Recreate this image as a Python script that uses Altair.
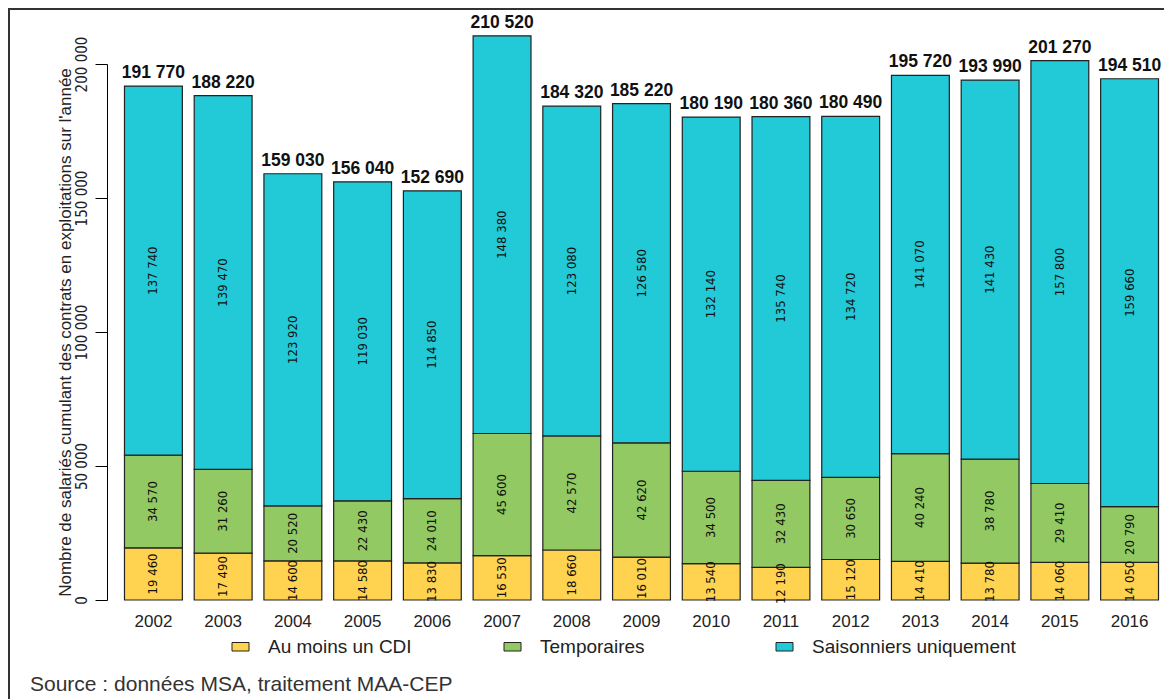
import altair as alt
import pandas as pd

years = ["2002", "2003", "2004", "2005", "2006", "2007", "2008", "2009",
         "2010", "2011", "2012", "2013", "2014", "2015", "2016"]
cdi = [19460, 17490, 14600, 14580, 13830, 16530, 18660, 16010,
       13540, 12190, 15120, 14410, 13780, 14060, 14050]
temp = [34570, 31260, 20520, 22430, 24010, 45600, 42570, 42620,
        34500, 32430, 30650, 40240, 38780, 29410, 20790]
sais = [137740, 139470, 123920, 119030, 114850, 148380, 123080, 126580,
        132140, 135740, 134720, 141070, 141430, 157800, 159660]
totals = [191770, 188220, 159030, 156040, 152690, 210520, 184320, 185220,
          180190, 180360, 180490, 195720, 193990, 201270, 194510]
series = ["Au moins un CDI", "Temporaires", "Saisonniers uniquement"]
colors = ["#FFD34F", "#92C962", "#22C9D6"]
y_ticks = [0, 50000, 100000, 150000, 200000]
y_title = "Nombre de salariés cumulant des contrats en exploitations sur l'année"
source = "Source : données MSA, traitement MAA-CEP"


def fmt(v):
    return f"{v:,}".replace(",", " ")


rows = []
for i, y in enumerate(years):
    for k, vals in enumerate([cdi, temp, sais]):
        rows.append({"year": y, "serie": series[k], "ord": k,
                     "value": vals[i], "label": fmt(vals[i])})
df = pd.DataFrame(rows)
tot_df = pd.DataFrame({"year": years, "total": totals,
                       "label": [fmt(t) for t in totals]})

W, H = 1041, 536
PAD_L, PAD_T = 113, 56
TOTAL_H = 691
NARROW = "DejaVu Sans Condensed, Liberation Sans, sans-serif"

xs = alt.X("year:N", sort=years,
           scale=alt.Scale(paddingInner=0.17, paddingOuter=0.05),
           axis=alt.Axis(title=None, labelAngle=0, ticks=False, domain=False,
                         labelPadding=13, labelFontSize=17,
                         labelFont="Liberation Sans", labelColor="#222"))
yscale = alt.Scale(domain=[0, 200000], nice=False)
yaxis = alt.Axis(values=y_ticks, grid=False,
                 labelExpr="replace(format(datum.value, ','), ',', ' ')",
                 tickSize=12, tickColor="#000", domainColor="#000",
                 labelAngle=270, labelAlign="center", labelBaseline="bottom",
                 labelPadding=6, labelFont=NARROW,
                 labelFontSize=15, labelColor="#222", offset=14,
                 title=y_title, titleFont="Liberation Sans",
                 titleFontSize=17, titleFontWeight="normal", titleColor="#222",
                 titleAngle=270, titleX=-33, titleY=H / 2,
                 titleAlign="center", titleBaseline="bottom")

base = alt.Chart(df).transform_stack(
    stack="value", groupby=["year"], as_=["y0", "y1"],
    sort=[alt.SortField("ord", order="ascending")]
).transform_calculate(mid="(datum.y0 + datum.y1) / 2")

bars = base.mark_bar(stroke="#222", strokeWidth=1.2).encode(
    x=xs,
    y=alt.Y("y0:Q", scale=yscale, axis=yaxis),
    y2="y1:Q",
    color=alt.Color("serie:N", sort=series,
                    scale=alt.Scale(domain=series, range=colors),
                    legend=alt.Legend(
                        title=None, orient="none", legendX=110, legendY=573,
                        direction="horizontal", columns=3, gridAlign="all",
                        columnPadding=30, padding=0, labelLimit=400,
                        symbolType="M-1,-0.5H1V0.5H-1Z",
                        symbolSize=289, symbolStrokeColor="#222",
                        symbolStrokeWidth=1, symbolOpacity=1,
                        labelFont="Liberation Sans", labelFontSize=19,
                        labelColor="#222", labelOffset=18)),
    order=alt.Order("ord:Q"),
)

inner = base.mark_text(angle=270, align="center", baseline="middle",
                       font=NARROW, fontSize=13,
                       color="#111").encode(
    x=alt.X("year:N", sort=years),
    y=alt.Y("mid:Q", scale=yscale),
    text="label:N",
)

tops = alt.Chart(tot_df).mark_text(baseline="alphabetic", dy=-8,
                                   font="Liberation Sans", fontWeight="bold",
                                   fontSize=17.5, color="#111").encode(
    x=alt.X("year:N", sort=years),
    y=alt.Y("total:Q", scale=yscale),
    text="label:N",
)

one = pd.DataFrame({"k": [0]})
frame_top = alt.Chart(one).mark_rule(color="#333", strokeWidth=2).encode(
    x=alt.value(-PAD_L), x2=alt.value(W + 20), y=alt.value(-PAD_T + 1))
frame_left = alt.Chart(one).mark_rule(color="#333", strokeWidth=2).encode(
    x=alt.value(-PAD_L + 1), y=alt.value(-PAD_T), y2=alt.value(TOTAL_H))

src = alt.Chart(pd.DataFrame({"t": [source]})).mark_text(
    align="left", baseline="alphabetic", font="Liberation Sans",
    fontSize=21, color="#333").encode(
    x=alt.value(22 - PAD_L), y=alt.value(683 - PAD_T), text="t:N")

chart = alt.layer(frame_top, frame_left, bars, inner, tops, src).properties(
    width=W, height=H,
    padding={"left": PAD_L, "top": PAD_T, "right": 2,
             "bottom": TOTAL_H - PAD_T - H},
    autosize=alt.AutoSizeParams(type="none"),
    background="white",
).configure_view(stroke=None)

chart.save("out.html", embed_options={"renderer": "svg", "actions": False})
